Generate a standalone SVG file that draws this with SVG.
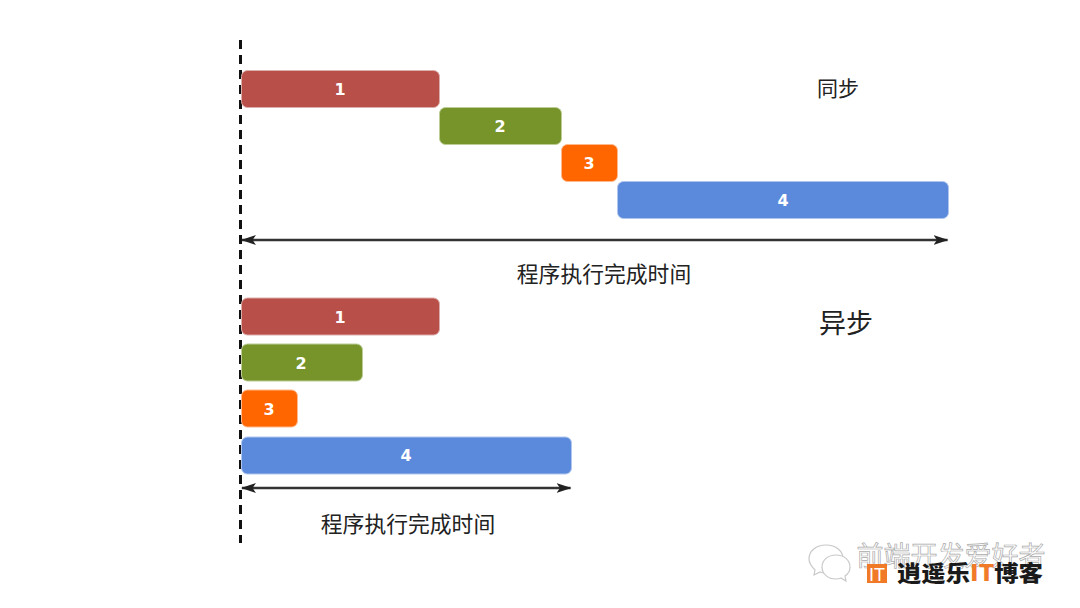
<svg xmlns="http://www.w3.org/2000/svg" width="1080" height="608" viewBox="0 0 1080 608">
<defs>
<marker id="ah" markerWidth="16" markerHeight="12" refX="14" refY="6" orient="auto-start-reverse" markerUnits="userSpaceOnUse"><path d="M0 1 L15 6 L0 11 L3.500 6 Z" fill="#222"/></marker>
</defs>
<style>
.n{font:bold 16px "DejaVu Sans",sans-serif;fill:#fff;text-anchor:middle}
.t{font-family:"Noto Sans CJK SC","Liberation Sans",sans-serif;fill:#222;text-anchor:middle}
.r{fill:#b94f49;stroke:#dcaeab;stroke-width:1}
.g{fill:#76942a;stroke:#bccd95;stroke-width:1}
.o{fill:#ff6600;stroke:#ffb98c;stroke-width:1}
.b{fill:#5b89dc;stroke:#b0c6ee;stroke-width:1}
.a{stroke:#333;stroke-width:2.500;fill:none;marker-start:url(#ah);marker-end:url(#ah)}
</style>
<rect width="1080" height="608" fill="#fff"/>
<g id="connectors">
<line x1="240.500" y1="40" x2="240.500" y2="543" stroke="#111" stroke-width="3" stroke-dasharray="9 6"/>
<line class="a" x1="242" y1="240" x2="947.500" y2="240"/>
<line class="a" x1="242" y1="488" x2="570.500" y2="488"/>
</g>
<g id="s1"><rect class="r" x="241.500" y="70.500" width="198" height="37" rx="6"/><text class="n" x="340" y="95">1</text></g>
<g id="s2"><rect class="g" x="439.500" y="107.500" width="122" height="37" rx="6"/><text class="n" x="500" y="132">2</text></g>
<g id="s3"><rect class="o" x="561.500" y="144.500" width="56" height="37" rx="6"/><text class="n" x="589" y="169">3</text></g>
<g id="s4"><rect class="b" x="617.500" y="181.500" width="331" height="37" rx="6"/><text class="n" x="783" y="206">4</text></g>
<g id="a1"><rect class="r" x="241.500" y="298" width="198" height="37" rx="6"/><text class="n" x="340" y="323">1</text></g>
<g id="a2"><rect class="g" x="241.500" y="344" width="121" height="37" rx="6"/><text class="n" x="301" y="369">2</text></g>
<g id="a3"><rect class="o" x="241.500" y="390" width="56" height="37" rx="6"/><text class="n" x="269" y="415">3</text></g>
<g id="a4"><rect class="b" x="241.500" y="437" width="330" height="37" rx="6"/><text class="n" x="406" y="461">4</text></g>
<g id="labels">
<text class="t" x="838" y="96" font-size="21">同步</text>
<text class="t" x="846" y="333" font-size="27">异步</text>
<text class="t" x="604" y="282" font-size="21.800">程序执行完成时间</text>
<text class="t" x="408" y="532" font-size="21.800">程序执行完成时间</text>
</g>
<g id="watermark">
<g fill="#fff" stroke="#c8c8c8" stroke-width="1.200">
<path d="M826 545 c-10 0 -17 6 -17 14 c0 5 3 8 6 11 l-1 5 l6 -3 c2 1 4 1 6 1 c10 0 17 -6 17 -14 c0 -8 -7 -14 -17 -14z"/>
<path d="M836 555 c-8 0 -14 5 -14 12 c0 7 6 12 14 12 c2 0 3 0 5 -1 l5 3 l-1 -5 c3 -2 5 -5 5 -9 c0 -7 -6 -12 -14 -12z"/>
</g>
<text x="951" y="566" font-family="Noto Sans CJK SC,sans-serif" font-size="27" fill="#fff" stroke="#aaa" stroke-width="0.700" text-anchor="middle">前端开发爱好者</text>
<rect x="867" y="564" width="20" height="19" fill="#f07a28"/>
<text x="877" y="581" font-family="Liberation Sans,sans-serif" font-size="18" fill="#fff" text-anchor="middle">IT</text>
<text x="970" y="581" font-family="Noto Sans CJK SC,sans-serif" font-size="22" font-weight="900" fill="#1a1a1a" text-anchor="middle" textLength="146" lengthAdjust="spacingAndGlyphs">逍遥乐<tspan fill="#f07a28">IT</tspan>博客</text>
</g>
</svg>
